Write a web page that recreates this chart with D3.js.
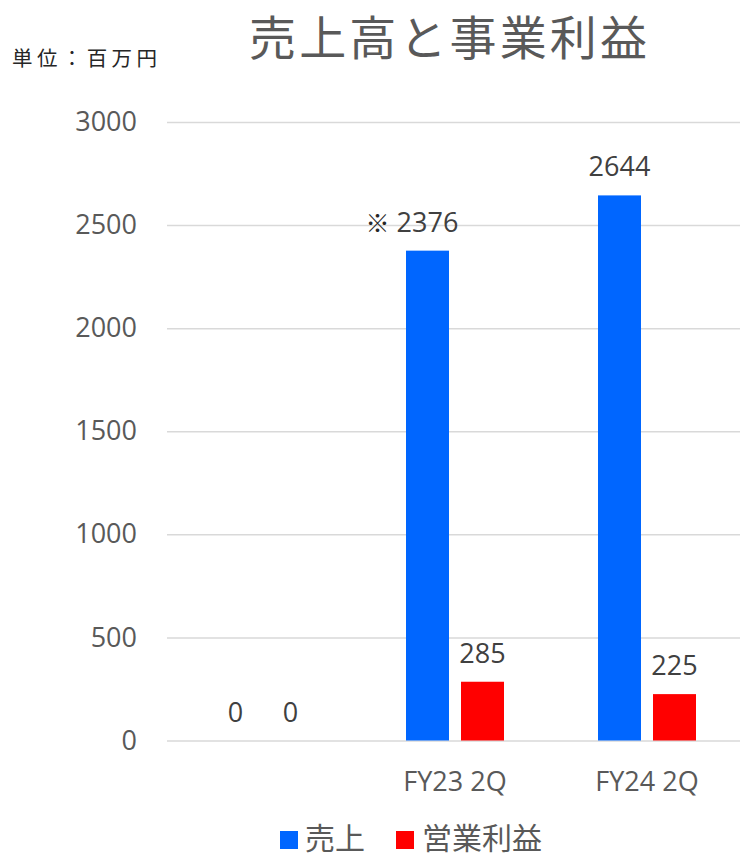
<!DOCTYPE html>
<html lang="ja">
<head>
<meta charset="utf-8">
<script src="https://cdn.jsdelivr.net/npm/d3@7"></script>
<style>
  html, body { margin: 0; padding: 0; background: #ffffff; }
  svg { display: block; }
</style>
</head>
<body>
<svg id="chart" width="740" height="858"></svg>
<script>
// Half-year results (unit: million yen)
const categories = ["", "FY23 2Q", "FY24 2Q"];
const salesValues = [0, 2376, 2644];
const profitValues = [0, 285, 225];
const seriesNames = ["売上", "営業利益"];
const seriesColors = ["#0066ff", "#ff0000"];
const labelPrefixes = [["", "※", ""], ["", "", ""]];
const yTicks = [0, 500, 1000, 1500, 2000, 2500, 3000];

const titleText = "売上高と事業利益";
const unitText = "単位：百万円";

const numFont = "'Open Sans', 'Noto Sans', sans-serif";
const jpFont = "'Noto Sans CJK JP', 'Noto Sans', sans-serif";

const svg = d3.select("#chart");

const plotLeft = 167, plotRight = 743;
const y = d3.scaleLinear().domain([0, 3000]).range([740.5, 122]);
const x0 = d3.scaleBand().domain(categories).range([plotLeft, plotRight]).padding(0);
const x1 = d3.scaleBand().domain(seriesNames).range([47, 145]).paddingInner(12 / 55).paddingOuter(0);

const series = [salesValues, profitValues];

// Title
svg.append("text")
  .attr("x", 448).attr("y", 54.5)
  .attr("text-anchor", "middle")
  .attr("font-family", jpFont)
  .attr("font-size", 47)
  .attr("textLength", 398)
  .attr("lengthAdjust", "spacing")
  .attr("fill", "#595959")
  .text(titleText);

// Unit note
svg.append("text")
  .attr("x", 12).attr("y", 66)
  .attr("font-family", jpFont)
  .attr("font-size", 20.5)
  .attr("textLength", 145)
  .attr("lengthAdjust", "spacing")
  .attr("fill", "#262626")
  .text(unitText);

// Value axis with gridlines
const yAxis = svg.append("g")
  .attr("transform", `translate(${plotLeft},0)`)
  .call(d3.axisLeft(y).tickValues(yTicks)
    .tickSizeInner(-(plotRight - plotLeft - 3))
    .tickSizeOuter(0)
    .tickPadding(30)
    .tickFormat(d3.format("d")));
yAxis.select(".domain").remove();
yAxis.selectAll(".tick line").attr("stroke", "#d9d9d9").attr("stroke-width", 1.5);
yAxis.selectAll(".tick text")
  .attr("font-family", numFont)
  .attr("font-size", 27)
  .attr("fill", "#595959");

// Category axis
const xAxis = svg.append("g")
  .attr("transform", "translate(0,740.5)")
  .call(d3.axisBottom(x0).tickSize(0).tickPadding(0));
xAxis.select(".domain").remove();
xAxis.selectAll(".tick text")
  .attr("y", 50.5)
  .attr("dy", null)
  .attr("font-family", numFont)
  .attr("font-size", 27)
  .attr("fill", "#595959");

// Bars and data labels
series.forEach((vals, si) => {
  const g = svg.append("g");
  const name = seriesNames[si];
  g.selectAll("rect")
    .data(categories.map((c, i) => ({ c, v: vals[i] })))
    .join("rect")
    .attr("x", d => x0(d.c) + x1(name))
    .attr("width", x1.bandwidth())
    .attr("y", d => y(d.v))
    .attr("height", d => y(0) - y(d.v))
    .attr("fill", seriesColors[si]);

  const labels = g.selectAll("text.val")
    .data(categories.map((c, i) => ({ c, v: vals[i], p: labelPrefixes[si][i] })))
    .join("text")
    .attr("class", "val")
    .attr("x", d => x0(d.c) + x1(name) + x1.bandwidth() / 2)
    .attr("y", d => y(d.v) - 19)
    .attr("text-anchor", "middle")
    .attr("font-family", numFont)
    .attr("font-size", 27)
    .attr("fill", "#404040")
    .text(d => d.v);

  // Footnote marker placed just left of the number
  labels.each(function(d) {
    if (!d.p) return;
    const bb = this.getBBox();
    g.append("text")
      .attr("x", bb.x - 7)
      .attr("y", y(d.v) - 19)
      .attr("text-anchor", "end")
      .attr("font-family", jpFont)
      .attr("font-size", 24)
      .attr("fill", "#262626")
      .text(d.p);
  });
});

// Legend
const legendY = 849;
const legendItems = [
  { name: seriesNames[0], color: seriesColors[0], sx: 280, tx: 305 },
  { name: seriesNames[1], color: seriesColors[1], sx: 396, tx: 422 }
];
const legend = svg.append("g");
legend.selectAll("rect")
  .data(legendItems)
  .join("rect")
  .attr("x", d => d.sx).attr("y", legendY - 18)
  .attr("width", 18).attr("height", 18)
  .attr("fill", d => d.color);
legend.selectAll("text")
  .data(legendItems)
  .join("text")
  .attr("x", d => d.tx).attr("y", legendY)
  .attr("font-family", jpFont)
  .attr("font-size", 30)
  .attr("fill", "#595959")
  .text(d => d.name);
</script>
</body>
</html>
